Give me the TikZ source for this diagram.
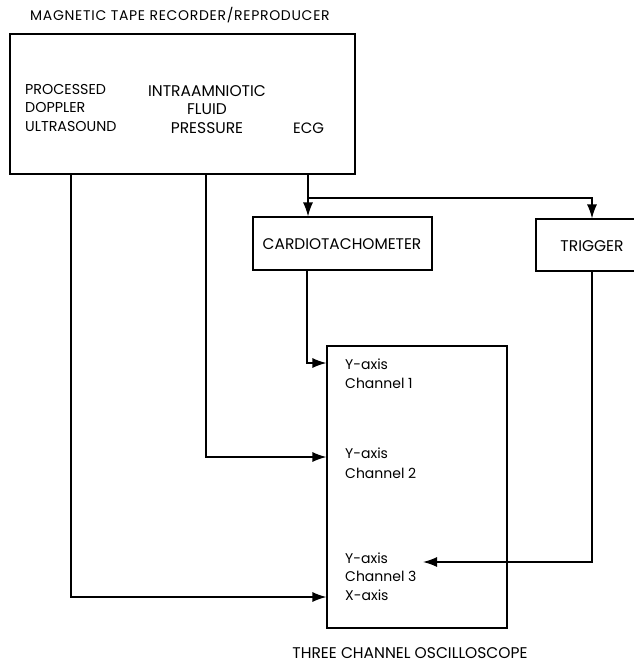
\documentclass[tikz,border=0pt]{standalone}
\usepackage{fontspec}
\setmainfont{Poppins}
\usetikzlibrary{arrows.meta}
\newcommand{\fsz}[2]{\fontsize{#1}{#2}\selectfont}
\begin{document}
\begin{tikzpicture}[x=1pt,y=-1pt,
  every node/.style={inner sep=0pt},
  blk/.style={draw, line width=1.1pt},
  conn/.style={line width=1.4pt, -{Latex[length=14pt,width=10pt]}},
  plain/.style={line width=1.4pt},
  lbl/.style={anchor=west, align=left}]
\useasboundingbox (0,0) rectangle (633,664);
% title
\node[anchor=west, font=\fsz{14}{16}\addfontfeatures{LetterSpace=5}] (title) at (30,15) {MAGNETIC TAPE RECORDER/REPRODUCER};
% top box
\node[blk, minimum width=345pt, minimum height=140pt] (rec) at (182.5,104) {};
\node[lbl, font=\fsz{14.3}{18.5}] (dop) at (25,107.5) {PROCESSED\\DOPPLER\\ULTRASOUND};
\node[align=center, font=\fsz{15.5}{18.5}] (pres) at (207,109.5) {INTRAAMNIOTIC\\FLUID\\PRESSURE};
\node[anchor=west, font=\fsz{15}{18}] (ecg) at (293,128) {ECG};
% cardio & trigger
\node[blk, minimum width=179pt, minimum height=53pt] (cardio) at (342.5,243.5) {};
\node[font=\fsz{15.4}{18}] (cardiot) at (342,244) {CARDIOTACHOMETER};
\node[blk, minimum width=110pt, minimum height=52pt] (trig) at (591,245) {};
\node[font=\fsz{15.5}{18}] (trigt) at (592,246) {TRIGGER};
% oscilloscope
\node[blk, minimum width=180pt, minimum height=282pt] (osc) at (417,487) {};
\node[lbl, font=\fsz{14}{19}] (ch1) at (345,373.5) {Y-axis\\Channel 1};
\node[lbl, font=\fsz{14}{20}] (ch2) at (345,463) {Y-axis\\Channel 2};
\node[lbl, font=\fsz{14}{18.5}] (ch3) at (345,576.5) {Y-axis\\Channel 3\\X-axis};
\node[font=\fsz{15.5}{18}] (osct) at (410,653) {THREE CHANNEL OSCILLOSCOPE};
% coordinates
\coordinate (split) at (308,198);
\coordinate (trigin) at (592,198);
\coordinate (tip3) at (423,562);
% connectors
\draw[conn] (rec.south -| 71,0) |- (osc.west |- 0,597);
\draw[conn] (rec.south -| 206,0) |- (osc.west |- 0,457);
\draw[plain] (rec.south -| split) -- (split);
\draw[conn] (split) -- (cardio.north -| split);
\draw[conn] (split) -- (trigin) -- (trig.north -| trigin);
\draw[conn] (cardio.south -| 307,0) |- (osc.west |- 0,363);
\draw[conn] (trig.south -| trigin) |- (tip3);
\end{tikzpicture}
\end{document}
